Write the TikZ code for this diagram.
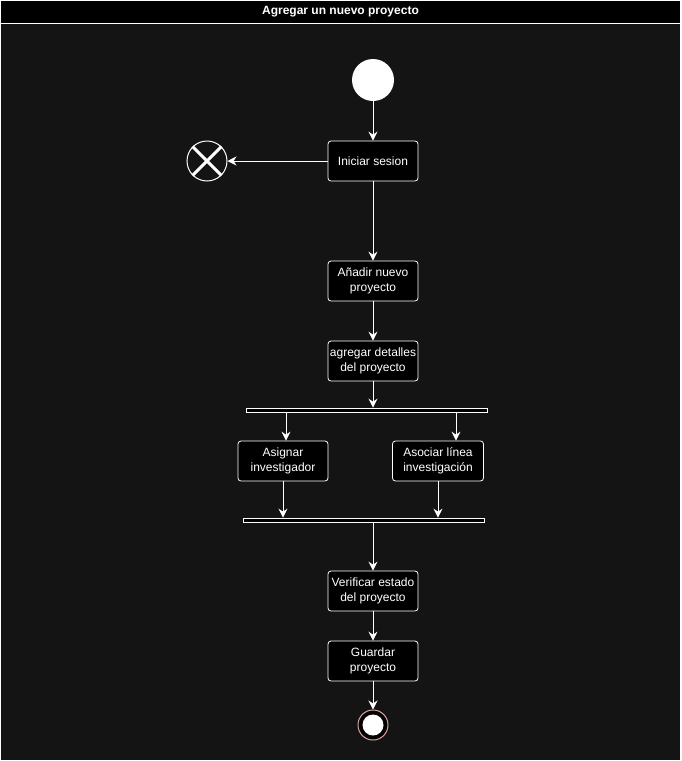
\documentclass[tikz,border=0pt]{standalone}
\usepackage{fontspec}
\setmainfont{Liberation Sans}
\usetikzlibrary{arrows.meta}
\definecolor{canvas}{HTML}{141414}
\definecolor{endring}{HTML}{E0A0A0}
\tikzset{
  act/.style={draw=white, fill=black, rounded corners=3pt, minimum width=90pt, minimum height=40pt,
    text=white, align=center, font=\fontsize{12pt}{15pt}\selectfont, inner sep=1pt, line width=0.8pt},
  bar/.style={draw=white, fill=black, minimum height=4pt, inner sep=0pt, line width=0.8pt},
  flow/.style={draw=white, line width=0.9pt, -{Stealth[length=9pt,width=9pt,inset=3pt]}},
}
\begin{document}
\begin{tikzpicture}[x=1pt,y=-1pt]
\useasboundingbox (0,0) rectangle (681,761);
% frame and title bar
\fill[canvas] (0,0) rectangle (681,761);
\fill[black] (0.5,0.5) rectangle (680.5,23);
\draw[white, line width=1pt] (0.5,0.5) rectangle (680.5,760.5);
\draw[white, line width=1pt] (0.5,23) -- (680.5,23);
\node[text=white, font=\bfseries\fontsize{12pt}{14pt}\selectfont] (title) at (340.5,12) {Agregar un nuevo proyecto};

% start
\node[circle, fill=white, minimum size=42pt, inner sep=0pt] (start) at (373,80) {};
% activities
\node[act] (login) at (373,161) {Iniciar sesion};
\node[act] (add) at (373,281) {Añadir nuevo\\proyecto};
\node[act] (details) at (373,361) {agregar detalles\\del proyecto};
\node[act] (assign) at (283,461) {Asignar\\investigador};
\node[act, minimum width=91pt] (line) at (438,461) {Asociar línea\\investigación};
\node[act] (verify) at (373,591) {Verificar estado\\del proyecto};
\node[act] (save) at (373,661) {Guardar\\proyecto};

% fork / join bars
\node[bar, minimum width=241pt] (fork) at (366.5,410) {};
\node[bar, minimum width=241pt] (join) at (363.5,520) {};

% flow final (cancel)
\node[circle, draw=white, line width=1pt, minimum size=40pt, inner sep=0pt] (cancel) at (207,161) {};
\draw[white, line width=3pt] (cancel.45) -- (cancel.225);
\draw[white, line width=3pt] (cancel.135) -- (cancel.315);

% end
\node[circle, draw=endring, line width=1pt, fill=black, minimum size=30pt, inner sep=0pt] (final) at (373,725) {};
\node[circle, fill=white, minimum size=21pt, inner sep=0pt] (finaldot) at (373,725) {};

% connectors
\draw[flow] (start) -- (login);
\draw[flow] (login) -- (cancel);
\draw[flow] (login) -- (add);
\draw[flow] (add) -- (details);
\draw[flow] (details) -- (details |- fork.north);
\draw[flow] (fork.south -| 286,0) -- (assign.north -| 286,0);
\draw[flow] (fork.south -| 456,0) -- (line.north -| 456,0);
\draw[flow] (assign) -- (assign |- join.north);
\draw[flow] (line) -- (line |- join.north);
\draw[flow] (join.south -| verify) -- (verify);
\draw[flow] (verify) -- (save);
\draw[flow] (save) -- (final);
\end{tikzpicture}
\end{document}
